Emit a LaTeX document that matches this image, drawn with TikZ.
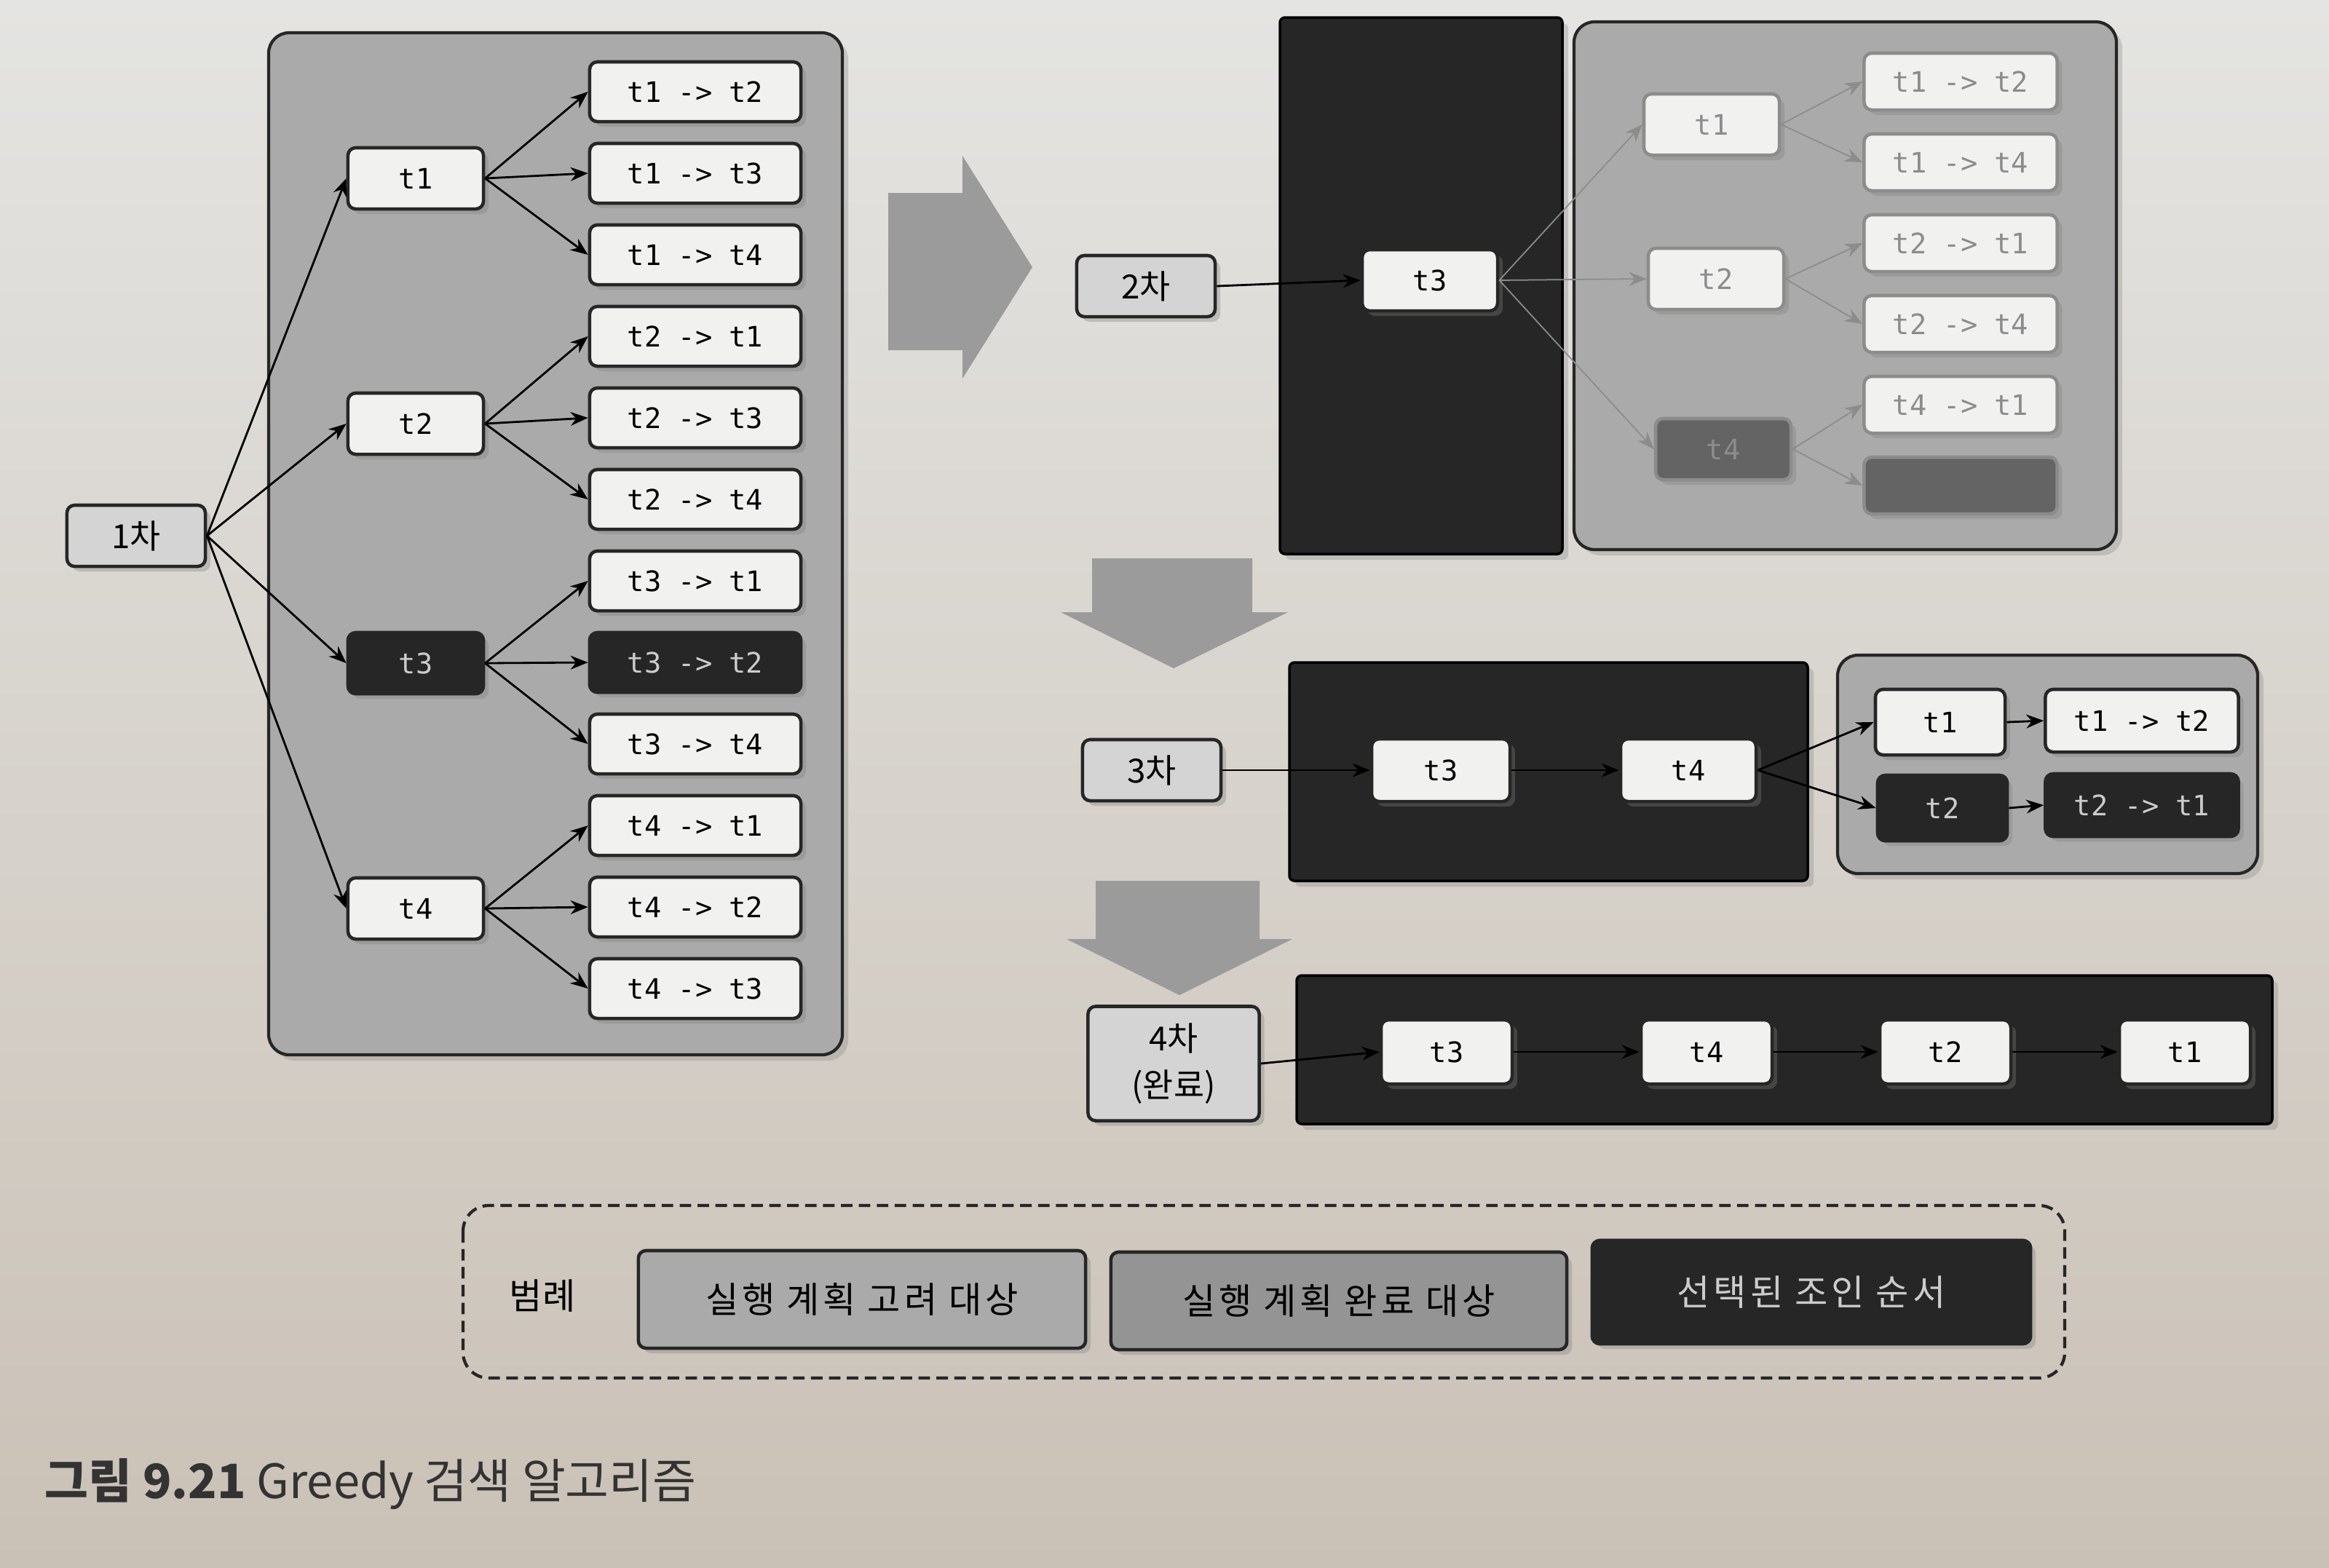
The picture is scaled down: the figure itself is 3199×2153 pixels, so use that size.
\documentclass[tikz,border=0pt]{standalone}
\usepackage{fontspec}
\setmainfont{Noto Sans CJK KR}
\setmonofont{DejaVu Sans Mono}
\newfontfamily\legfont[LetterSpace=10]{Noto Sans CJK KR}
\usetikzlibrary{arrows.meta, shadows}

\definecolor{pagetop}{RGB}{228,228,226}
\definecolor{pagebot}{RGB}{202,193,182}
\definecolor{panelgrey}{RGB}{170,170,170}
\definecolor{nodewhite}{RGB}{241,241,240}
\definecolor{ordergrey}{RGB}{212,212,212}
\definecolor{darkfill}{RGB}{38,38,38}
\definecolor{arrowgrey}{RGB}{155,155,155}
\definecolor{dimgrey}{RGB}{100,100,100}
\definecolor{legendA}{RGB}{170,170,170}
\definecolor{legendB}{RGB}{148,148,148}

\tikzset{
  tblock/.style={rectangle, rounded corners=3pt, draw=black!85, line width=1.3pt, fill=nodewhite,
    minimum width=1.86cm, minimum height=0.84cm, inner sep=0pt, font=\ttfamily\fontsize{11}{13}\selectfont,
    drop shadow={opacity=0.35, shadow xshift=0.7mm, shadow yshift=-0.7mm}},
  pairblock/.style={tblock, minimum width=2.9cm, minimum height=0.82cm},
  orderblock/.style={tblock, fill=ordergrey, minimum width=1.9cm, font=\rmfamily\fontsize{13}{18}\selectfont},
  selblock/.style={fill=darkfill, text=white!80!black},
  dimblock/.style={draw=black!45, text=black!45},
  legblock/.style={tblock, minimum width=6.1cm, minimum height=1.34cm, font=\legfont\fontsize{14}{16}\selectfont},
  conn/.style={->, line width=0.8pt},
  dimconn/.style={->, line width=0.5pt, draw=black!45},
  panelbg/.style={draw=black!85, line width=1.2pt, rounded corners=8pt, fill=panelgrey,
    drop shadow={opacity=0.3, shadow xshift=0.8mm, shadow yshift=-0.8mm}},
  selbg/.style={draw=black, line width=1pt, rounded corners=2pt, fill=darkfill,
    drop shadow={opacity=0.3, shadow xshift=0.8mm, shadow yshift=-0.8mm}},
  bigarrow/.style={fill=arrowgrey},
  >={Stealth[length=2.4mm, width=1.9mm]}
}

\begin{document}
\begin{tikzpicture}[x=0.01cm, y=-0.01cm]
  \useasboundingbox (0,0) rectangle (3199,2153);

  % 배경
  \shade[top color=pagetop, bottom color=pagebot] (0,0) rectangle (3199,2153);

  % 1차
  \draw[panelbg] (369,45) rectangle (1157,1449);
  \node[orderblock] (order1) at (187,736) {1차};
  \foreach \a/\y/\s in {1/245/, 2/582/, 3/911/selblock, 4/1248/}
    \node[tblock, \s] (p1t\a) at (571,\y) {t\a};
  \foreach \a/\b/\k/\s in {1/2/0/, 1/3/1/, 1/4/2/, 2/1/3/, 2/3/4/, 2/4/5/,
                           3/1/6/, 3/2/7/selblock, 3/4/8/, 4/1/9/, 4/2/10/, 4/3/11/}
    \node[pairblock, \s] (p1c\a\b) at (955,{126+112*\k}) {t\a{} -> t\b};
  \foreach \a in {1,...,4}
    \draw[conn] (order1.east) -- (p1t\a.west);
  \foreach \a/\b in {1/2, 1/3, 1/4, 2/1, 2/3, 2/4, 3/1, 3/2, 3/4, 4/1, 4/2, 4/3}
    \draw[conn] (p1t\a.east) -- (p1c\a\b.west);

  % 오른쪽 화살표
  \fill[bigarrow] (1220,265) -- (1322,265) -- (1322,214) -- (1418,367) -- (1322,520) -- (1322,481) -- (1220,481) -- cycle;

  % 2차
  \draw[selbg] (1758,24) rectangle (2146,761);
  \draw[panelbg] (2162,30) rectangle (2907,755);
  \node[orderblock] (order2) at (1574,393) {2차};
  \node[tblock] (p2t3) at (1964,385) {t3};
  \node[tblock, dimblock] (p2t1) at (2351,171) {t1};
  \node[tblock, dimblock] (p2t2) at (2357,383) {t2};
  \node[tblock, dimblock, fill=dimgrey] (p2t4) at (2367,617) {t4};
  \foreach \a/\b/\k in {1/2/0, 1/4/1, 2/1/2, 2/4/3, 4/1/4}
    \node[pairblock, dimblock, minimum width=2.65cm, minimum height=0.78cm] (p2c\a\b) at (2693,{112+111*\k}) {t\a{} -> t\b};
  \node[pairblock, dimblock, fill=dimgrey, minimum width=2.65cm, minimum height=0.78cm] (p2c42) at (2693,667) {};
  \draw[conn] (order2.east) -- (p2t3.west);
  \foreach \a in {1,2,4}
    \draw[dimconn] (p2t3.east) -- (p2t\a.west);
  \foreach \a/\b in {1/2, 1/4, 2/1, 2/4, 4/1, 4/2}
    \draw[dimconn] (p2t\a.east) -- (p2c\a\b.west);

  % 아래 화살표
  \fill[bigarrow] (1500,767) -- (1720,767) -- (1720,841) -- (1769,841) -- (1612,918) -- (1457,841) -- (1500,841) -- cycle;

  % 3차
  \draw[selbg] (1771,910) rectangle (2483,1210);
  \draw[panelbg] (2524,900) rectangle (3101,1200);
  \node[orderblock] (order3) at (1582,1058) {3차};
  \node[tblock, minimum width=1.9cm, minimum height=0.86cm] (p3t3) at (1979,1058) {t3};
  \node[tblock, minimum height=0.86cm] (p3t4) at (2319,1058) {t4};
  \node[tblock, minimum width=1.78cm, minimum height=0.9cm] (p3t1) at (2665,992) {t1};
  \node[tblock, selblock, minimum width=1.78cm, minimum height=0.9cm] (p3t2) at (2668,1110) {t2};
  \node[pairblock, minimum width=2.65cm, minimum height=0.86cm] (p3c12) at (2942,990) {t1 -> t2};
  \node[pairblock, selblock, minimum width=2.65cm, minimum height=0.86cm] (p3c21) at (2942,1106) {t2 -> t1};
  \draw[conn] (order3.east) -- (p3t3.west);
  \draw[conn] (p3t3.east) -- (p3t4.west);
  \draw[conn] (p3t4.east) -- (p3t1.west);
  \draw[conn] (p3t4.east) -- (p3t2.west);
  \draw[conn] (p3t1.east) -- (p3c12.west);
  \draw[conn] (p3t2.east) -- (p3c21.west);

  % 아래 화살표
  \fill[bigarrow] (1505,1210) -- (1730,1210) -- (1730,1290) -- (1775,1290) -- (1620,1367) -- (1465,1290) -- (1505,1290) -- cycle;

  % 4차 (완료)
  \draw[selbg] (1781,1340) rectangle (3121,1544);
  \node[orderblock, minimum width=2.35cm, minimum height=1.57cm, align=center] (order4) at (1612,1461) {4차\\(완료)};
  \foreach \a/\x in {3/1987, 4/2344, 2/2672, 1/3001}
    \node[tblock, minimum width=1.8cm, minimum height=0.88cm] (p4t\a) at (\x,1445) {t\a};
  \draw[conn] (order4.east) -- (p4t3.west);
  \draw[conn] (p4t3.east) -- (p4t4.west);
  \draw[conn] (p4t4.east) -- (p4t2.west);
  \draw[conn] (p4t2.east) -- (p4t1.west);

  % 범례
  \draw[draw=black!85, line width=1.2pt, rounded corners=10pt, dash pattern=on 4.5pt off 2.5pt] (636,1656) rectangle (2836,1893);
  \node[font=\rmfamily\fontsize{14}{16}\selectfont] (legtitle) at (745,1780) {범례};
  \node[legblock, fill=legendA, minimum width=6.14cm] (legA) at (1184,1785) {실행 계획 고려 대상};
  \node[legblock, fill=legendB, minimum width=6.26cm] (legB) at (1839,1787) {실행 계획 완료 대상};
  \node[legblock, selblock, minimum width=6.02cm, minimum height=1.42cm] (legC) at (2488,1775) {선택된 조인 순서};

  % 그림 제목
  \node[anchor=base west, inner sep=0pt, text=black!80, font=\rmfamily\fontsize{18.5}{20}\selectfont] (caption) at (61,2058) {\textbf{그림 9.21} Greedy 검색 알고리즘};
\end{tikzpicture}
\end{document}
